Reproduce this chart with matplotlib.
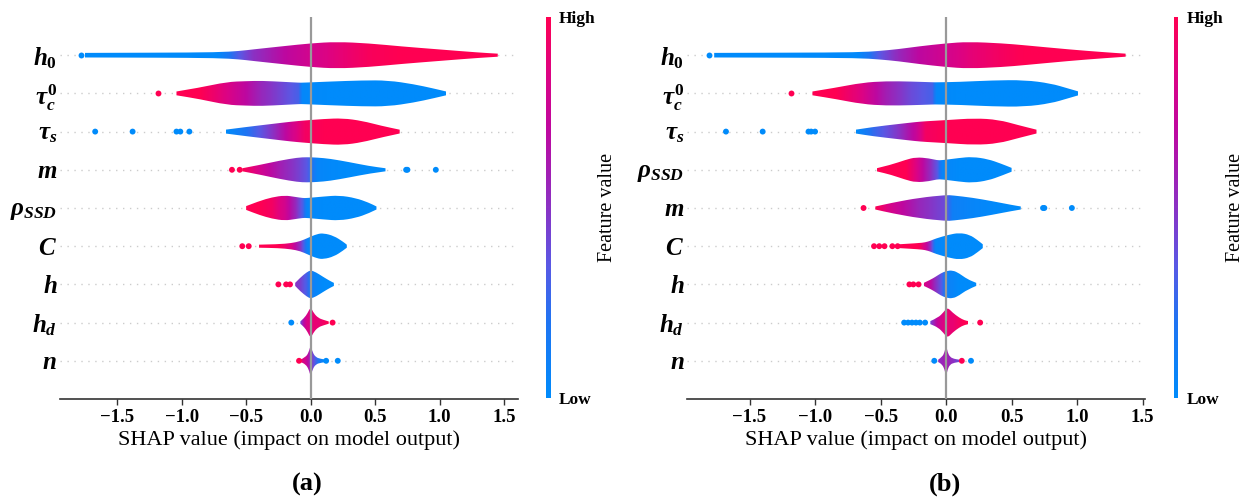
import numpy as np
import matplotlib as mpl
import matplotlib.pyplot as plt
from matplotlib.colors import LinearSegmentedColormap
from matplotlib.path import Path
from matplotlib.patches import PathPatch

plt.rcParams['font.family'] = 'Liberation Serif'
plt.rcParams['mathtext.fontset'] = 'custom'
plt.rcParams['mathtext.it'] = 'Liberation Serif:italic:bold'
plt.rcParams['mathtext.rm'] = 'Liberation Serif:bold'
plt.rcParams['mathtext.bf'] = 'Liberation Serif:bold'

# feature order, top to bottom
labels_a = [r'$h_0$', r'$\tau_c^0$', r'$\tau_s$', r'$m$', r'$\rho_{SSD}$', r'$C$', r'$h$', r'$h_d$', r'$n$']
labels_b = [r'$h_0$', r'$\tau_c^0$', r'$\tau_s$', r'$\rho_{SSD}$', r'$m$', r'$C$', r'$h$', r'$h_d$', r'$n$']

# violin profiles: (shap value, half width in rows, feature value 0..1)
# outliers: (shap value, feature value)
a_h0 = [(-1.75, .06, 0), (-1.2, .065, 0), (-0.72, .075, .02), (-0.55, .11, .35), (-0.45, .15, .5),
        (-0.2, .24, .7), (0.0, .31, .8), (0.2, .35, .88), (0.45, .31, .97), (0.7, .23, 1),
        (1.0, .15, 1), (1.3, .07, 1), (1.45, .04, 1)]
a_h0_out = [(-1.78, 0)]
a_tc0 = [(-1.04, .05, 1), (-0.86, .15, 1), (-0.65, .3, .85), (-0.5, .32, .7), (-0.38, .33, .55),
         (-0.2, .3, .4), (-0.09, .28, .3), (-0.06, .28, .03), (0.15, .31, 0), (0.4, .34, 0),
         (0.6, .34, 0), (0.8, .24, 0), (0.95, .13, 0), (1.05, .05, 0)]
a_tc0_out = [(-1.18, 1)]
a_ts = [(-0.66, .05, 0), (-0.5, .12, .2), (-0.3, .2, .5), (-0.15, .26, .8), (-0.05, .29, .95),
        (0.1, .33, 1), (0.25, .35, 1), (0.4, .28, 1), (0.55, .15, 1), (0.69, .05, 1)]
a_ts_out = [(-1.67, 0), (-1.38, 0), (-1.04, 0), (-1.01, 0), (-0.94, 0)]
a_m = [(-0.53, .04, 1), (-0.39, .13, .8), (-0.24, .24, .6), (-0.1, .32, .45), (-0.03, .33, .35),
       (0.05, .32, .05), (0.15, .29, .02), (0.3, .2, 0), (0.45, .1, 0), (0.58, .04, 0)]
a_m_out = [(-0.61, 1), (-0.55, 1), (0.74, 0), (0.75, 0), (0.97, 0)]
a_rho = [(-0.5, .05, 1), (-0.4, .18, 1), (-0.3, .28, .95), (-0.2, .33, .8), (-0.12, .29, .55),
         (-0.06, .26, .3), (-0.03, .26, .05), (0.1, .3, 0), (0.22, .33, 0), (0.35, .26, 0),
         (0.45, .14, 0), (0.51, .04, 0)]
a_rho_out = []
a_C = [(-0.40, .04, 1), (-0.25, .05, 1), (-0.15, .08, .85), (-0.08, .13, .5), (-0.02, .22, .05),
       (0.05, .32, 0), (0.1, .34, 0), (0.18, .27, 0), (0.25, .12, 0), (0.28, .04, 0)]
a_C_out = [(-0.53, 1), (-0.48, 1)]
a_h = [(-0.12, .04, .5), (-0.08, .18, .45), (-0.03, .32, .3), (0.0, .37, .15), (0.04, .32, .05),
       (0.1, .19, 0), (0.15, .09, 0), (0.18, .04, 0)]
a_h_out = [(-0.25, 1), (-0.19, 1), (-0.16, 1)]
a_hd = [(-0.08, .03, .35), (-0.05, .12, .7), (-0.025, .24, .85), (0.0, .41, .85), (0.025, .24, .9),
        (0.06, .12, .9), (0.1, .07, .95), (0.14, .03, 1)]
a_hd_out = [(-0.15, 0), (0.17, 1)]
a_n = [(-0.08, .03, .9), (-0.04, .09, .8), (-0.015, .22, .65), (0.0, .42, .55), (0.015, .22, .45),
       (0.04, .09, .3), (0.08, .05, .1), (0.12, .03, 0)]
a_n_out = [(-0.09, 1), (0.12, 0), (0.21, 0)]

b_h0 = [(-1.77, .06, 0), (-1.2, .065, 0), (-0.67, .075, .02), (-0.51, .11, .35), (-0.36, .16, .55),
        (-0.21, .23, .7), (0.0, .31, .8), (0.17, .35, .88), (0.43, .31, .96), (0.6, .26, 1),
        (0.94, .15, 1), (1.2, .08, 1), (1.37, .04, 1)]
b_h0_out = [(-1.81, 0)]
b_tc0 = [(-1.02, .05, 1), (-0.84, .15, 1), (-0.64, .28, .85), (-0.46, .32, .6), (-0.26, .31, .4),
         (-0.1, .29, .3), (-0.07, .29, .03), (0.1, .3, 0), (0.35, .34, 0), (0.6, .35, 0),
         (0.8, .26, 0), (0.93, .13, 0), (1.01, .05, 0)]
b_tc0_out = [(-1.18, 1)]
b_ts = [(-0.69, .05, 0), (-0.56, .12, .25), (-0.36, .2, .5), (-0.23, .25, .75), (-0.16, .27, .95),
        (0.0, .3, 1), (0.22, .35, 1), (0.4, .31, 1), (0.55, .17, 1), (0.69, .05, 1)]
b_ts_out = [(-1.68, 0), (-1.40, 0), (-1.05, 0), (-1.03, 0), (-1.0, 0)]
b_rho = [(-0.53, .04, 1), (-0.42, .13, 1), (-0.31, .26, 1), (-0.23, .33, .85), (-0.13, .3, .55),
         (-0.07, .25, .35), (-0.03, .25, .05), (0.1, .31, 0), (0.2, .34, 0), (0.32, .28, 0),
         (0.42, .16, 0), (0.5, .05, 0)]
b_rho_out = []
b_m = [(-0.54, .04, 1), (-0.41, .14, .8), (-0.2, .27, .55), (0.0, .34, .4), (0.05, .33, .1),
       (0.2, .27, .05), (0.35, .18, .02), (0.5, .08, 0), (0.57, .04, 0)]
b_m_out = [(-0.63, 1), (0.74, 0), (0.75, 0), (0.96, 0)]
b_C = [(-0.36, .05, 1), (-0.21, .08, 1), (-0.16, .1, .8), (-0.12, .14, .5), (-0.08, .2, .05),
       (0.02, .3, 0), (0.1, .35, 0), (0.18, .3, 0), (0.24, .16, 0), (0.28, .05, 0)]
b_C_out = [(-0.55, 1), (-0.51, 1), (-0.47, 1), (-0.41, 1), (-0.37, 1)]
b_h = [(-0.17, .04, .85), (-0.12, .12, .7), (-0.08, .2, .5), (-0.04, .29, .35), (0.0, .35, .1),
       (0.05, .37, .05), (0.1, .29, 0), (0.16, .14, 0), (0.23, .04, 0)]
b_h_out = [(-0.28, 1), (-0.25, 1), (-0.21, 1)]
b_hd = [(-0.12, .04, .4), (-0.06, .13, .75), (-0.02, .27, .85), (0.01, .4, .9), (0.05, .26, .9),
        (0.1, .13, .95), (0.14, .06, 1), (0.17, .04, 1)]
b_hd_out = [(-0.32, 0), (-0.29, 0), (-0.26, 0), (-0.23, 0), (-0.2, 0), (-0.16, 0), (0.26, 1)]
b_n = [(-0.06, .03, .55), (-0.03, .1, .55), (-0.012, .22, .6), (0.0, .42, .6), (0.012, .22, .6),
       (0.03, .1, .55), (0.06, .05, .5), (0.1, .03, .4)]
b_n_out = [(-0.09, 0), (0.12, 1), (0.19, 0)]

violins_a = [a_h0, a_tc0, a_ts, a_m, a_rho, a_C, a_h, a_hd, a_n]
outliers_a = [a_h0_out, a_tc0_out, a_ts_out, a_m_out, a_rho_out, a_C_out, a_h_out, a_hd_out, a_n_out]
violins_b = [b_h0, b_tc0, b_ts, b_rho, b_m, b_C, b_h, b_hd, b_n]
outliers_b = [b_h0_out, b_tc0_out, b_ts_out, b_rho_out, b_m_out, b_C_out, b_h_out, b_hd_out, b_n_out]

xticks = [-1.5, -1.0, -0.5, 0.0, 0.5, 1.0, 1.5]

cmap = LinearSegmentedColormap.from_list(
    'shap_rb', [(0.0, '#008bfb'), (0.2, '#1f74f2'), (0.35, '#5a58e4'), (0.5, '#8a32c4'),
                (0.7, '#bd08a0'), (0.85, '#dc0384'), (1.0, '#ff0052')])


def smooth_edge(pts):
    # quadratic bezier through midpoints, knots act as control points
    verts = [pts[0]]
    codes = []
    for i in range(1, len(pts) - 1):
        mid = ((pts[i][0] + pts[i + 1][0]) / 2, (pts[i][1] + pts[i + 1][1]) / 2)
        verts += [pts[i], mid]
        codes += [Path.CURVE3, Path.CURVE3]
    verts.append(pts[-1])
    codes.append(Path.LINETO)
    return verts, codes


def draw_violin(ax, y, prof):
    xs = np.array([p[0] for p in prof])
    ws = np.array([p[1] for p in prof])
    cs = np.array([p[2] for p in prof])
    top = list(zip(xs, y + ws))
    bot = list(zip(xs[::-1], y - ws[::-1]))
    v1, c1 = smooth_edge(top)
    v2, c2 = smooth_edge(bot)
    verts = v1 + v2 + [top[0]]
    codes = [Path.MOVETO] + c1 + [Path.LINETO] + c2 + [Path.CLOSEPOLY]
    patch = PathPatch(Path(verts, codes), facecolor='none', edgecolor='none')
    ax.add_patch(patch)
    xg = np.linspace(xs[0], xs[-1], 400)
    cg = np.interp(xg, xs, cs)
    im = ax.imshow(cg[None, :], extent=(xs[0], xs[-1], y - 0.5, y + 0.5), aspect='auto',
                   cmap=cmap, vmin=0, vmax=1, origin='lower', interpolation='bilinear', zorder=2)
    im.set_clip_path(patch)


def make_panel(ax_rect, cax_rect, labels, violins, outliers, xlim, tag, tag_x):
    ax = fig.add_axes(ax_rect)
    n = len(labels)
    for i in range(n):
        y = n - 1 - i
        ax.axhline(y, color='#cccccc', lw=1, dashes=(1, 4), zorder=-1)
        draw_violin(ax, y, violins[i])
        if outliers[i]:
            ox = [o[0] for o in outliers[i]]
            oc = [o[1] for o in outliers[i]]
            ax.scatter(ox, [y] * len(ox), c=oc, cmap=cmap, vmin=0, vmax=1, s=18,
                       linewidths=0, zorder=3)
    ax.axvline(0, color='#999999', lw=1.6, zorder=5)
    ax.set_xlim(xlim)
    ax.set_ylim(-1, n)
    ax.set_yticks(range(n))
    ax.set_yticklabels(labels[::-1])
    ax.tick_params(axis='y', length=0, labelsize=18, pad=2)
    ax.set_xticks(xticks)
    ax.tick_params(axis='x', labelsize=13.5, length=4, width=1, color='#333333')
    for t in ax.get_xticklabels():
        t.set_fontweight('bold')
    for s in ['top', 'right', 'left']:
        ax.spines[s].set_visible(False)
    ax.spines['bottom'].set_color('#333333')
    ax.spines['bottom'].set_linewidth(1.2)
    ax.set_xlabel('SHAP value (impact on model output)', fontsize=16, labelpad=3)

    cax = fig.add_axes(cax_rect)
    cb = mpl.colorbar.ColorbarBase(cax, cmap=cmap, ticks=[0, 1])
    cb.set_ticklabels(['Low', 'High'])
    cb.outline.set_visible(False)
    cax.tick_params(length=0, labelsize=12.5, pad=6)
    for t in cax.get_yticklabels():
        t.set_fontweight('bold')
    cb.set_label('Feature value', fontsize=14.5, labelpad=2)

    fig.text(tag_x, 0.034, tag, ha='center', va='center', fontsize=19, fontweight='bold')


fig = plt.figure(figsize=(12.44, 5.01), dpi=100)

make_panel([0.0482, 0.2036, 0.3682, 0.7625], [0.4392, 0.2056, 0.0034, 0.7604],
           labels_a, violins_a, outliers_a, (-1.943, 1.607), '(a)', 0.247)
make_panel([0.5523, 0.2036, 0.3682, 0.7625], [0.9437, 0.2056, 0.0034, 0.7604],
           labels_b, violins_b, outliers_b, (-1.977, 1.519), '(b)', 0.760)

fig.savefig('out.png', dpi=100)
